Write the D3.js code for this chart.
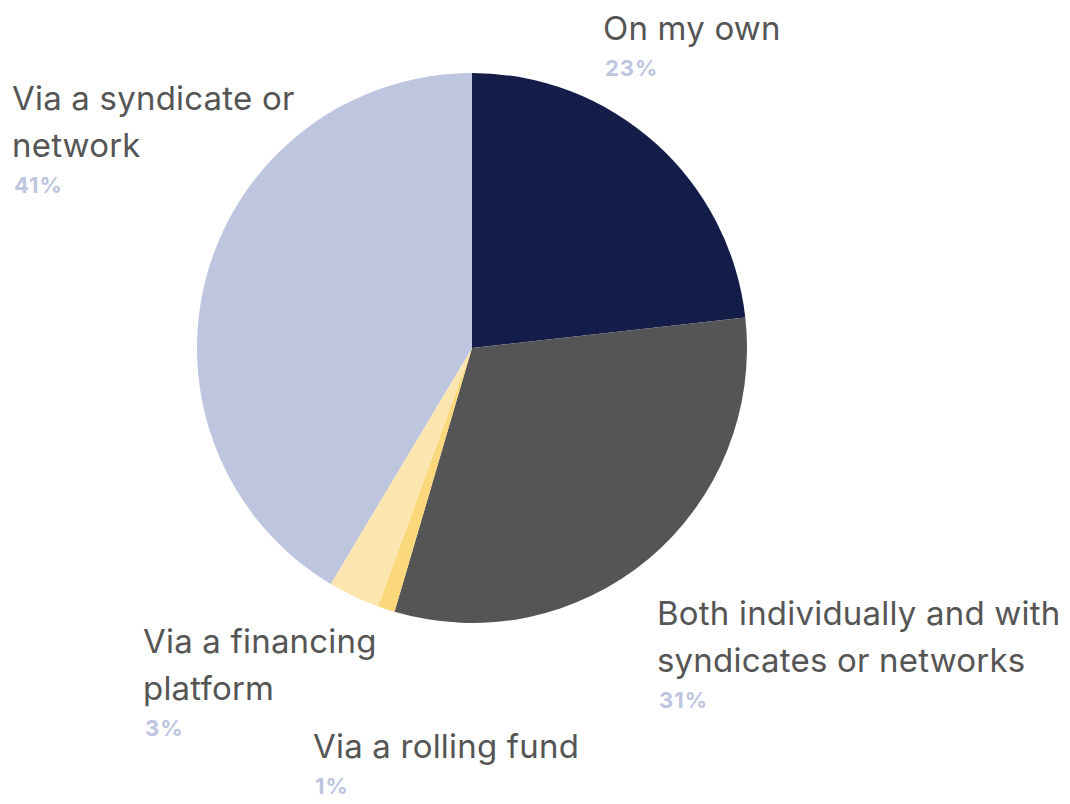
<!DOCTYPE html>
<html><head><meta charset="utf-8">
<script src="https://cdn.jsdelivr.net/npm/d3@7"></script>
<style>
html,body{margin:0;padding:0;background:#fff;}
svg{display:block;}
</style></head>
<body>
<svg id="chart" width="1070" height="804"></svg>
<script>
const categories = ["On my own", "Both individually and with syndicates or networks", "Via a rolling fund", "Via a financing platform", "Via a syndicate or network"];
const values = [23, 31, 1, 3, 41];
const labelLines = [["On my own"], ["Both individually and with", "syndicates or networks"], ["Via a rolling fund"], ["Via a financing", "platform"], ["Via a syndicate or", "network"]];
const colors = ["#131d48", "#555555", "#fad87b", "#fce6b0", "#bdc5df"];
const labelPos = [[603, 40], [657, 625], [313, 758], [143, 653], [12, 110]];

const svg = d3.select("#chart");
const cx = 472, cy = 348, r = 275;
const pie = d3.pie().sort(null).value(d => d)(values);
const arc = d3.arc().innerRadius(0).outerRadius(r);
const g = svg.append("g").attr("transform", `translate(${cx},${cy})`);
g.selectAll("path").data(pie).join("path")
  .attr("d", arc).attr("fill", (d, i) => colors[i]);

const font = "Inter, 'Open Sans', sans-serif";
categories.forEach((c, i) => {
  const [x, y] = labelPos[i];
  const lines = labelLines[i];
  const t = svg.append("text").attr("x", x).attr("y", y)
    .attr("font-family", font).attr("font-size", 33).attr("letter-spacing", 0.2)
    .attr("fill", "#555555");
  lines.forEach((l, j) => t.append("tspan").attr("x", x).attr("y", y + j * 47).text(l));
  svg.append("text").attr("x", x + 2).attr("y", y + (lines.length - 1) * 47 + 36)
    .attr("font-family", font).attr("font-size", 22).attr("font-weight", 700)
    .attr("letter-spacing", 1).attr("fill", "#bdc5df")
    .text(d3.format(".0f")(values[i]) + "%");
});
</script>
</body></html>
